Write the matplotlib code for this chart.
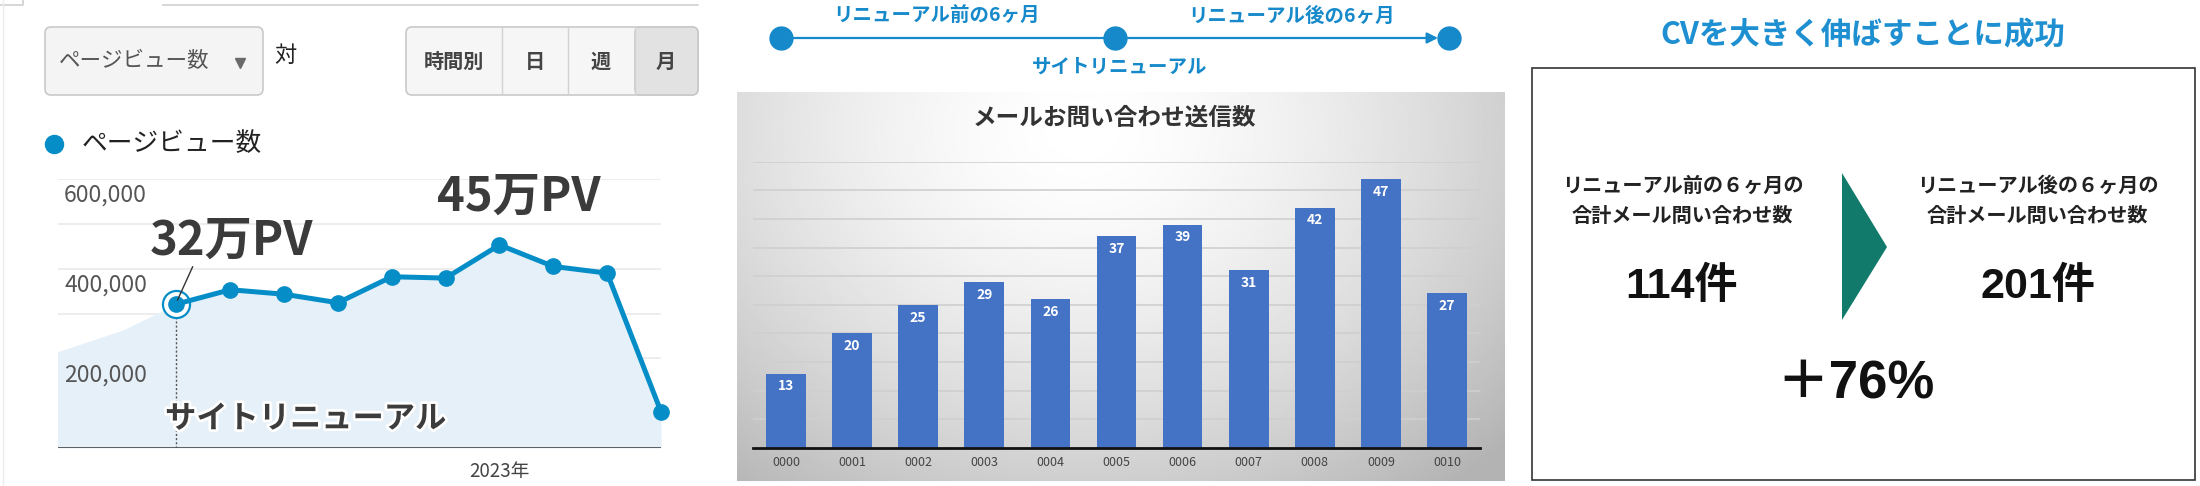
import matplotlib.pyplot as plt
import numpy as np
from matplotlib.patches import Rectangle, FancyBboxPatch, Polygon
from matplotlib.transforms import blended_transform_factory
import matplotlib.patheffects as pe

plt.rcParams['font.family'] = ['Noto Sans CJK JP', 'DejaVu Sans']

W, H = 2200, 486

# monthly page views (the first months are before the renewal, shown faint)
pv_before = [183000, 223000, 263000]
pv = [321000, 353000, 343000, 324000, 382000, 379000, 453000, 405000, 390000, 81000]
pv_ticks = [200000, 400000, 600000]
year_label = '2023年'
year_pos = 6

# mail inquiries per month
months = ['0000', '0001', '0002', '0003', '0004', '0005',
          '0006', '0007', '0008', '0009', '0010']
mails = [13, 20, 25, 29, 26, 37, 39, 31, 42, 47, 27]

before_total = 114
after_total = 201
growth = 76

BLUE = '#058dc7'
TL = '#1589c9'
NUM_FONT = ['Liberation Sans', 'Noto Sans CJK JP']


def rect(x0, y0, x1, y1):
    return [x0 / W, 1 - y1 / H, (x1 - x0) / W, (y1 - y0) / H]


fig = plt.figure(figsize=(W / 100, H / 100), dpi=100)

# pixel overlay for the ui parts
bg = fig.add_axes([0, 0, 1, 1])
bg.set_xlim(0, W)
bg.set_ylim(H, 0)
bg.axis('off')

# ---- left: analytics screenshot ----
bg.plot([163, 698], [5, 5], color='#d0d0d0', lw=1.2)
bg.plot([0, 23, 23], [5, 5, 0], color='#d0d0d0', lw=1.2)
bg.plot([3, 3], [0, H], color='#ececec', lw=1)

bg.add_patch(FancyBboxPatch((45, 27), 218, 68, boxstyle='round,pad=0,rounding_size=6',
                            fc='#f4f4f4', ec='#c9c9c9', lw=1.2))
bg.text(59, 61, 'ページビュー数', fontsize=15.5, color='#555555', va='center')
bg.plot(240, 63, marker='v', ms=7, color='#6a6a6a')
bg.text(285, 55, '対', fontsize=16, color='#222222', ha='center', va='center')

bg.add_patch(FancyBboxPatch((406, 27), 292, 68, boxstyle='round,pad=0,rounding_size=6',
                            fc='#f6f6f6', ec='#c9c9c9', lw=1.2))
bg.add_patch(FancyBboxPatch((635, 27), 63, 68, boxstyle='round,pad=0,rounding_size=6',
                            fc='#e2e2e2', ec='#c9c9c9', lw=1.2))
bg.add_patch(Rectangle((635.5, 27.8), 12, 66.4, fc='#e2e2e2', ec='none'))
for xd in [502, 568, 635]:
    bg.plot([xd, xd], [28, 94], color='#d2d2d2', lw=1)
for xc, s in [(454, '時間別'), (535, '日'), (601, '週'), (666, '月')]:
    bg.text(xc, 61, s, fontsize=14.5, weight='bold', color='#444444', ha='center', va='center')

bg.plot(54, 144, 'o', ms=13, color=BLUE)
bg.text(82, 144, 'ページビュー数', fontsize=18.5, color='#222222', va='center')

ax = fig.add_axes(rect(58, 179, 661, 448))
ax.patch.set_alpha(0)
x = np.arange(len(pv))
xb = np.arange(-len(pv_before), 0)
ax.fill_between(np.r_[xb, x], np.r_[pv_before, pv], color='#e5f0f8', lw=0, zorder=1)
for v in range(100000, 600001, 100000):
    ax.axhline(v, color='#eaeaea', lw=1.2, zorder=0)
ax.axhline(0, color='#333333', lw=1.8, zorder=2)
ax.plot([0, 0], [0, 292000], ls=(0, (1.5, 1.5)), color='#555555', lw=1, zorder=2)
ax.plot(0, pv[0], 'o', ms=19.5, mfc='white', mec=BLUE, mew=1.6, zorder=3, clip_on=False)
ax.plot(x, pv, color=BLUE, lw=3.6, marker='o', ms=11, clip_on=False, zorder=4)
ax.set_xlim(-2.2, 9.0)
ax.set_ylim(0, 600000)
for s in ax.spines.values():
    s.set_visible(False)
ax.set_yticks([])
ax.set_xticks([year_pos])
ax.set_xticklabels([year_label], fontsize=13.5, color='#444444')
ax.tick_params(length=0, pad=9)
tr = blended_transform_factory(ax.transAxes, ax.transData)
for v in pv_ticks:
    ax.text(0.01, v - 11000, f'{v:,}', transform=tr, fontsize=16.5, color='#555555',
            va='top', ha='left')

ax.text(1.02, 462000, '32万PV', fontsize=34, weight='bold', color='#3b3b3b',
        ha='center', va='center')
ax.text(6.36, 560000, '45万PV', fontsize=34, weight='bold', color='#3b3b3b',
        ha='center', va='center')
ax.plot([0.30, 0.02], [404000, 330000], color='#333333', lw=1, zorder=5)
ax.text(2.40, 65000, 'サイトリニューアル', fontsize=22.5, weight='bold', color='#3c3c3c',
        ha='center', va='center', zorder=6,
        path_effects=[pe.withStroke(linewidth=4, foreground='white')])

# ---- middle: timeline + bar chart ----
bg.plot([781, 1115], [38, 38], color=TL, lw=1.6)
bg.annotate('', xy=(1438, 38), xytext=(1115, 38),
            arrowprops=dict(arrowstyle='-|>', color=TL, lw=1.6, mutation_scale=16,
                            shrinkA=0, shrinkB=0))
bg.plot([781, 1115, 1449], [38, 38, 38], 'o', ms=16.5, color=TL, zorder=5)
bg.text(937, 16, 'リニューアル前の6ヶ月', fontsize=14, weight='bold', color=TL,
        ha='center', va='center')
bg.text(1292, 16, 'リニューアル後の6ヶ月', fontsize=14, weight='bold', color=TL,
        ha='center', va='center')
bg.text(1120, 67, 'サイトリニューアル', fontsize=14, weight='bold', color=TL,
        ha='center', va='center')

gax = fig.add_axes(rect(737, 92, 1505, 481))
yy, xx = np.mgrid[0:1:200j, 0:1:400j]
r = np.sqrt(((xx - 0.45) / 0.75) ** 2 + ((yy - 0.1) / 1.2) ** 2)
grad = 1 - 0.3 * np.clip(r, 0, 1) ** 1.6
gax.imshow(grad, cmap='gray', vmin=0, vmax=1, aspect='auto', extent=(0, 1, 1, 0))
gax.axis('off')
gax.text(0.492, 0.935, 'メールお問い合わせ送信数', transform=gax.transAxes, fontsize=17,
         weight='bold', color='#333333', ha='center', va='center')

bax = fig.add_axes(rect(753, 161.7, 1480, 448))
bax.patch.set_alpha(0)
xi = np.arange(len(months))
bax.bar(xi, mails, width=0.6, color='#4472c4', zorder=2)
for i, v in zip(xi, mails):
    bax.text(i, v - 1.0, str(v), ha='center', va='top', fontsize=10, weight='bold',
             color='white', zorder=3)
bax.set_xlim(-0.5, 10.5)
bax.set_ylim(0, 50)
bax.set_yticks(range(0, 51, 5))
bax.yaxis.grid(True, color='#cfcfcf', lw=1.2)
bax.set_axisbelow(True)
bax.set_yticklabels([])
bax.set_xticks(xi)
bax.set_xticklabels(months, fontsize=9, color='#444444')
bax.tick_params(length=0, pad=6)
for s in ['top', 'left', 'right']:
    bax.spines[s].set_visible(False)
bax.spines['bottom'].set_linewidth(2)
bax.spines['bottom'].set_color('#111111')

# ---- right: summary ----
bg.text(1863, 35, 'CVを大きく伸ばすことに成功', fontsize=22, weight='bold', color='#1e8fd0',
        ha='center', va='center')
bg.add_patch(Rectangle((1532, 68), 663, 412, fc='white', ec='#333333', lw=1.2))
bg.add_patch(Polygon([(1842, 173), (1887, 247), (1842, 320)], closed=True,
                     fc='#117a6b', ec='none'))
bg.text(1683, 185, 'リニューアル前の６ヶ月の', fontsize=14.5, weight='bold', color='#222222',
        ha='center', va='center')
bg.text(1682, 215, '合計メール問い合わせ数', fontsize=14.5, weight='bold', color='#222222',
        ha='center', va='center')
bg.text(2038, 185, 'リニューアル後の６ヶ月の', fontsize=14.5, weight='bold', color='#222222',
        ha='center', va='center')
bg.text(2037, 215, '合計メール問い合わせ数', fontsize=14.5, weight='bold', color='#222222',
        ha='center', va='center')
bg.text(1681, 287, f'{before_total}件', fontsize=31, weight='bold', color='#111111',
        family=NUM_FONT, ha='center', va='center')
bg.text(2038, 287, f'{after_total}件', fontsize=31, weight='bold', color='#111111',
        family=NUM_FONT, ha='center', va='center')
bg.text(1855, 383, f'＋{growth}%', fontsize=38, weight='bold', color='#111111',
        family=NUM_FONT, ha='center', va='center')

fig.savefig('out.png', dpi=100)
